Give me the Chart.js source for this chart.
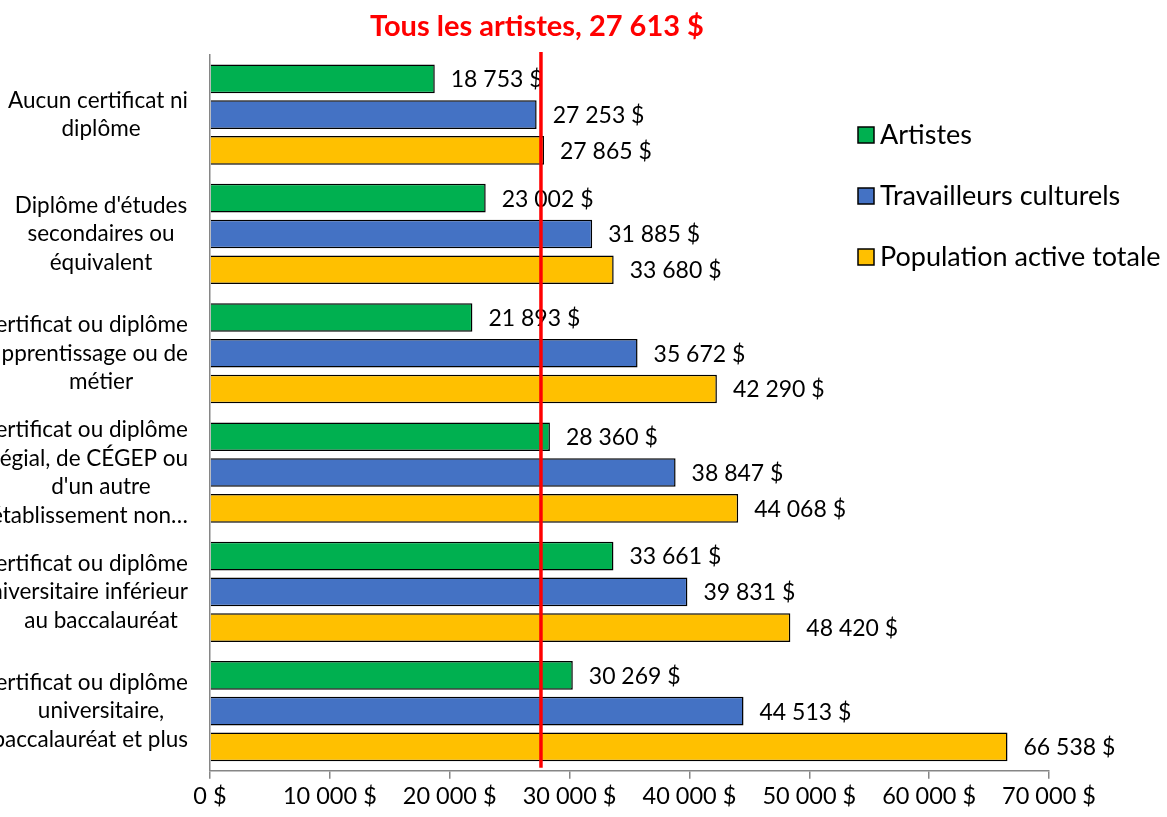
<!DOCTYPE html>
<html>
<head>
<meta charset="utf-8">
<script src="https://cdn.jsdelivr.net/npm/chart.js@4"></script>
<style>
  body { margin: 0; background: #fff; }
  canvas { display: block; }
</style>
</head>
<body>
<canvas id="myChart" width="1167" height="817"></canvas>
<script>
// categories (multi-line labels)
categories = [
  ["Aucun certificat ni", "diplôme"],
  ["Diplôme d'études", "secondaires ou", "équivalent"],
  ["Certificat ou diplôme", "d'apprentissage ou de", "métier"],
  ["Certificat ou diplôme", "collégial, de CÉGEP ou", "d'un autre", "établissement non…"],
  ["Certificat ou diplôme", "universitaire inférieur", "au baccalauréat"],
  ["Certificat ou diplôme", "universitaire,", "baccalauréat et plus"]
];
artistes = [18753, 23002, 21893, 28360, 33661, 30269];
travailleurs = [27253, 31885, 35672, 38847, 39831, 44513];
population = [27865, 33680, 42290, 44068, 48420, 66538];
tous_artistes = 27613;
x_ticks = [0, 10000, 20000, 30000, 40000, 50000, 60000, 70000];

var FONT = "Lato";

function fmt(v) {
  return String(v).replace(/\B(?=(\d{3})+(?!\d))/g, " ") + " $";
}

// étiquettes des catégories (centrées, collées à l'axe si trop larges)
var catLabels = {
  id: 'catLabels',
  afterDraw: function(chart) {
    var ctx = chart.ctx;
    var ys = chart.scales.y;
    var center = 101, maxRight = 188, lh = 28.5;
    ctx.save();
    ctx.font = "22.5px " + FONT;
    ctx.fillStyle = "#000";
    ctx.textAlign = "center";
    ctx.textBaseline = "middle";
    chart.data.labels.forEach(function(lines, i) {
      var yc = ys.getPixelForValue(i);
      var y0 = yc - (lines.length - 1) * lh / 2;
      lines.forEach(function(line, k) {
        var w = ctx.measureText(line).width;
        var cx = Math.min(center, maxRight - w / 2);
        ctx.fillText(line, cx, y0 + k * lh);
      });
    });
    ctx.restore();
  }
};

// valeurs au bout des barres
var valueLabels = {
  id: 'valueLabels',
  afterDatasetsDraw: function(chart) {
    var ctx = chart.ctx;
    ctx.save();
    ctx.font = "23px " + FONT;
    ctx.fillStyle = "#000";
    ctx.textAlign = "left";
    ctx.textBaseline = "middle";
    chart.data.datasets.forEach(function(ds, i) {
      chart.getDatasetMeta(i).data.forEach(function(bar, j) {
        ctx.fillText(fmt(ds.data[j]), bar.x + 16, bar.y + 1);
      });
    });
    ctx.restore();
  }
};

// ligne rouge + titre
var refLine = {
  id: 'refLine',
  afterDraw: function(chart) {
    var ctx = chart.ctx;
    var x = chart.scales.x.getPixelForValue(tous_artistes);
    ctx.save();
    ctx.strokeStyle = "#FF0000";
    ctx.lineWidth = 3.5;
    ctx.beginPath();
    ctx.moveTo(x, chart.chartArea.top - 3);
    ctx.lineTo(x, chart.chartArea.bottom - 3);
    ctx.stroke();
    ctx.fillStyle = "#FF0000";
    ctx.font = "bold 29px " + FONT;
    ctx.textAlign = "center";
    ctx.textBaseline = "middle";
    ctx.fillText("Tous les artistes, " + fmt(tous_artistes), x - 4, 27);
    ctx.restore();
  }
};

// légende à droite
var sideLegend = {
  id: 'sideLegend',
  afterDraw: function(chart) {
    var ctx = chart.ctx;
    ctx.save();
    ctx.font = "27px " + FONT;
    ctx.textBaseline = "middle";
    ctx.textAlign = "left";
    chart.data.datasets.forEach(function(ds, i) {
      var y = 135 + i * 61;
      ctx.fillStyle = ds.backgroundColor;
      ctx.fillRect(858, y - 8, 16, 16);
      ctx.strokeStyle = "#000";
      ctx.lineWidth = 1.5;
      ctx.strokeRect(858, y - 8, 16, 16);
      ctx.fillStyle = "#000";
      ctx.fillText(ds.label, 880, y);
    });
    ctx.restore();
  }
};

var ctx = document.getElementById('myChart').getContext('2d');
var myChart = new Chart(ctx, {
  type: 'bar',
  data: {
    labels: categories,
    datasets: [
      { label: 'Artistes', data: artistes, backgroundColor: "#00B050" },
      { label: 'Travailleurs culturels', data: travailleurs, backgroundColor: "#4472C4" },
      { label: 'Population active totale', data: population, backgroundColor: "#FFC000" }
    ]
  },
  options: {
    indexAxis: 'y',
    responsive: false,
    animation: false,
    layout: { padding: { top: 55, right: 118, bottom: 2, left: 0 } },
    datasets: {
      bar: {
        borderColor: "#000",
        borderWidth: 1.5,
        barPercentage: 0.8,
        categoryPercentage: 0.9
      }
    },
    plugins: {
      legend: { display: false },
      tooltip: { enabled: false }
    },
    scales: {
      x: {
        min: 0,
        max: 70000,
        afterBuildTicks: function(axis) {
          axis.ticks = x_ticks.map(function(v) { return { value: v }; });
        },
        grid: { drawOnChartArea: false, drawTicks: true, tickLength: 8, color: "#868686", lineWidth: 1.5 },
        border: { display: true, color: "#868686", width: 1.5 },
        ticks: {
          color: "#000",
          font: { family: FONT, size: 23.5 },
          padding: 4,
          maxRotation: 0,
          callback: function(v) { return fmt(v); }
        }
      },
      y: {
        afterFit: function(axis) { axis.width = 210; },
        grid: { display: false },
        border: { display: true, color: "#868686", width: 1.5 },
        ticks: { display: false }
      }
    }
  },
  plugins: [valueLabels, refLine, sideLegend, catLabels]
});
</script>
</body>
</html>
